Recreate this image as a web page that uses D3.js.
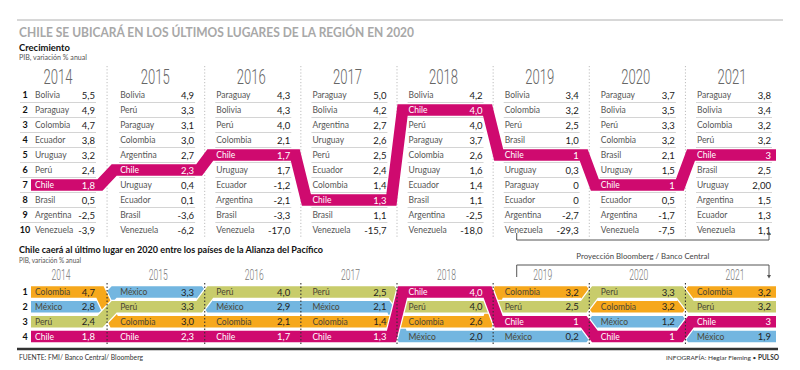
<!DOCTYPE html>
<html>
<head>
<meta charset="utf-8">
<script src="https://cdn.jsdelivr.net/npm/d3@7"></script>
<style>
  body { margin: 0; background: #fff; }
  svg { display: block; }
  text { font-family: Lato, "Open Sans", sans-serif; }
  .yr { font-family: Roboto, Lato, sans-serif; font-weight: 300; }
</style>
</head>
<body>
<svg id="chart" width="800" height="370"></svg>
<script>
// ---- data ----
const years = ['2014', '2015', '2016', '2017', '2018', '2019', '2020', '2021'];
const ranks = [1, 2, 3, 4, 5, 6, 7, 8, 9, 10];

// Crecimiento: ranking per year (top to bottom)
const topCountries = [
  ['Bolivia', 'Paraguay', 'Colombia', 'Ecuador', 'Uruguay', 'Perú', 'Chile', 'Brasil', 'Argentina', 'Venezuela'],
  ['Bolivia', 'Perú', 'Paraguay', 'Colombia', 'Argentina', 'Chile', 'Uruguay', 'Ecuador', 'Brasil', 'Venezuela'],
  ['Paraguay', 'Bolivia', 'Perú', 'Colombia', 'Chile', 'Uruguay', 'Ecuador', 'Argentina', 'Brasil', 'Venezuela'],
  ['Paraguay', 'Bolivia', 'Argentina', 'Uruguay', 'Perú', 'Ecuador', 'Colombia', 'Chile', 'Brasil', 'Venezuela'],
  ['Bolivia', 'Chile', 'Perú', 'Paraguay', 'Colombia', 'Uruguay', 'Ecuador', 'Brasil', 'Argentina', 'Venezuela'],
  ['Bolivia', 'Colombia', 'Perú', 'Brasil', 'Chile', 'Uruguay', 'Paraguay', 'Ecuador', 'Argentina', 'Venezuela'],
  ['Paraguay', 'Bolivia', 'Perú', 'Colombia', 'Brasil', 'Uruguay', 'Chile', 'Ecuador', 'Argentina', 'Venezuela'],
  ['Paraguay', 'Bolivia', 'Colombia', 'Perú', 'Chile', 'Brasil', 'Uruguay', 'Argentina', 'Ecuador', 'Venezuela']
];
const topValues = [
  ['5,5', '4,9', '4,7', '3,8', '3,2', '2,4', '1,8', '0,5', '-2,5', '-3,9'],
  ['4,9', '3,3', '3,1', '3,0', '2,7', '2,3', '0,4', '0,1', '-3,6', '-6,2'],
  ['4,3', '4,3', '4,0', '2,1', '1,7', '1,7', '-1,2', '-2,1', '-3,3', '-17,0'],
  ['5,0', '4,2', '2,7', '2,6', '2,5', '2,4', '1,4', '1,3', '1,1', '-15,7'],
  ['4,2', '4,0', '4,0', '3,7', '2,6', '1,6', '1,4', '1,1', '-2,5', '-18,0'],
  ['3,4', '3,2', '2,5', '1,0', '1', '0,3', '0', '0', '-2,7', '-29,3'],
  ['3,7', '3,5', '3,3', '3,2', '2,1', '1,5', '1', '0,5', '-1,7', '-7,5'],
  ['3,8', '3,4', '3,2', '3,2', '3', '2,5', '2,00', '1,5', '1,3', '1,1']
];

// Alianza del Pacífico: ranking per year
const pacCountries = [
  ['Colombia', 'México', 'Perú', 'Chile'],
  ['México', 'Perú', 'Colombia', 'Chile'],
  ['Perú', 'México', 'Colombia', 'Chile'],
  ['Perú', 'México', 'Colombia', 'Chile'],
  ['Chile', 'Perú', 'Colombia', 'México'],
  ['Colombia', 'Perú', 'Chile', 'México'],
  ['Perú', 'Colombia', 'México', 'Chile'],
  ['Colombia', 'Perú', 'Chile', 'México']
];
const pacValues = [
  ['4,7', '2,8', '2,4', '1,8'],
  ['3,3', '3,3', '3,0', '2,3'],
  ['4,0', '2,9', '2,1', '1,7'],
  ['2,5', '2,1', '1,4', '1,3'],
  ['4,0', '4,0', '2,6', '2,0'],
  ['3,2', '2,5', '1', '0,2'],
  ['3,3', '3,2', '1,2', '1'],
  ['3,2', '3,2', '3', '1,9']
];
const pacOrder = ['México', 'Colombia', 'Perú', 'Chile'];   // drawing order
const projYears = ['2019', '2021'];

const magenta = '#cf0a6f';
const pacColor = d3.scaleOrdinal()
  .domain(['Colombia', 'México', 'Perú', 'Chile'])
  .range(['#f6a81c', '#73b6e0', '#c8cc6b', magenta]);

// ---- layout ----
const svg = d3.select('#chart');
const x = d3.scalePoint().domain(years).range([24, 697]);
const nameX = (yr, i) => i === 0 ? 35 : x(yr);
const valX = (yr, i) => i === 0 ? 95 : x(yr) + 74;
const bandL = (yr, i) => i === 0 ? 31 : x(yr) - 6;
const bandR = (yr, i) => valX(yr, i) + 5;
const midX = (yr, i) => i === 0 ? 58 : x(yr) + 35;
const divX = i => (bandR(years[i], i) + bandL(years[i + 1], i + 1)) / 2;

const yTop = d3.scaleLinear().domain([1, 10]).range([95, 230]);
const yPac = d3.scaleLinear().domain([1, 4]).range([292, 336.5]);

// header
svg.append('line').attr('x1', 17).attr('x2', 783).attr('y1', 20).attr('y2', 20)
  .attr('stroke', '#b0b0b0').attr('stroke-width', 1);
svg.append('text').attr('x', 19).attr('y', 36.5)
  .attr('font-size', 12.5).attr('font-weight', 700).attr('fill', '#a8a8a8')
  .attr('textLength', 395).attr('lengthAdjust', 'spacingAndGlyphs')
  .text('CHILE SE UBICARÁ EN LOS ÚLTIMOS LUGARES DE LA REGIÓN EN 2020');
svg.append('text').attr('x', 19).attr('y', 50.5)
  .attr('font-size', 10).attr('font-weight', 700).attr('fill', '#111')
  .attr('textLength', 51).attr('lengthAdjust', 'spacingAndGlyphs')
  .text('Crecimiento');
svg.append('text').attr('x', 19).attr('y', 60)
  .attr('font-size', 7.5).attr('fill', '#555')
  .attr('textLength', 68).attr('lengthAdjust', 'spacingAndGlyphs')
  .text('PIB, variación % anual');

// ---- top ranking table ----
const topG = svg.append('g');

topG.selectAll('.div').data(years.slice(0, -1)).enter().append('line')
  .attr('x1', (d, i) => divX(i)).attr('x2', (d, i) => divX(i))
  .attr('y1', 66).attr('y2', 237)
  .attr('stroke', '#bdbdbd').attr('stroke-dasharray', '1.2,2');

topG.selectAll('.year').data(years).enter().append('text')
  .attr('class', 'yr')
  .attr('x', (d, i) => midX(d, i)).attr('y', 83.5)
  .attr('text-anchor', 'middle')
  .attr('font-size', 21).attr('fill', '#666')
  .attr('textLength', 29).attr('lengthAdjust', 'spacingAndGlyphs')
  .text(d => d);

// separators
years.forEach((yr, i) => {
  topG.selectAll(null).data(ranks.slice(0, -1)).enter().append('line')
    .attr('x1', i === 0 ? 20 : nameX(yr, i) - 1).attr('x2', valX(yr, i) + 1)
    .attr('y1', r => yTop(r) + 7.5).attr('y2', r => yTop(r) + 7.5)
    .attr('stroke', '#c9c9c9').attr('stroke-width', 0.8);
});

// Chile band
const chilePts = years.flatMap((yr, i) => {
  const r = topCountries[i].indexOf('Chile') + 1;
  return [[bandL(yr, i), yTop(r)], [bandR(yr, i), yTop(r)]];
});
topG.append('path').attr('d', d3.line()(chilePts))
  .attr('fill', 'none').attr('stroke', magenta).attr('stroke-width', 11.5)
  .attr('stroke-linejoin', 'miter');

// ranks
topG.selectAll('.rank').data(ranks).enter().append('text')
  .attr('x', 25).attr('y', r => yTop(r) + 3.3)
  .attr('text-anchor', 'middle').attr('font-size', 9).attr('font-weight', 700).attr('fill', '#111')
  .text(r => r);

years.forEach((yr, i) => {
  const rows = topCountries[i].map((c, k) => ({ c, v: topValues[i][k], r: k + 1 }));
  const g = topG.append('g');
  g.selectAll('.n').data(rows).enter().append('text')
    .attr('x', nameX(yr, i)).attr('y', d => yTop(d.r) + 3)
    .attr('font-size', 8.5).attr('fill', d => d.c === 'Chile' ? '#fff' : '#555')
    .text(d => d.c);
  g.selectAll('.v').data(rows).enter().append('text')
    .attr('x', valX(yr, i)).attr('y', d => yTop(d.r) + 3.5)
    .attr('text-anchor', 'end').attr('font-size', 9.5)
    .attr('fill', d => d.c === 'Chile' ? '#fff' : '#1a1a1a')
    .text(d => d.v);
});

// projection bracket
const pL = x(projYears[0]) + 12, pR = valX(projYears[1], 7) - 2;
svg.append('path').attr('d', `M${pL},233V240H${pR}V234`)
  .attr('fill', 'none').attr('stroke', '#555').attr('stroke-width', 1);
svg.append('path').attr('d', `M${pR - 2},235L${pR},231.5L${pR + 2},235Z`).attr('fill', '#555');
svg.append('text').attr('x', (pL + pR) / 2).attr('y', 258.5)
  .attr('text-anchor', 'middle').attr('font-size', 8).attr('fill', '#444')
  .attr('textLength', 133).attr('lengthAdjust', 'spacingAndGlyphs')
  .text('Proyección Bloomberg / Banco Central');
svg.append('path').attr('d', `M${pL},277V265H${pR}V276`)
  .attr('fill', 'none').attr('stroke', '#555').attr('stroke-width', 1);
svg.append('path').attr('d', `M${pR - 2},275L${pR},278.5L${pR + 2},275Z`).attr('fill', '#555');

// ---- Alianza del Pacífico ----
svg.append('text').attr('x', 19).attr('y', 253)
  .attr('font-size', 10).attr('font-weight', 700).attr('fill', '#111')
  .attr('textLength', 304).attr('lengthAdjust', 'spacingAndGlyphs')
  .text('Chile caerá al último lugar en 2020 entre los países de la Alianza del Pacífico');
svg.append('text').attr('x', 19).attr('y', 263)
  .attr('font-size', 7.5).attr('fill', '#555')
  .attr('textLength', 62).attr('lengthAdjust', 'spacingAndGlyphs')
  .text('PIB, variación % anual');

const pac = svg.append('g');
pac.selectAll('.year').data(years).enter().append('text')
  .attr('class', 'yr')
  .attr('x', (d, i) => midX(d, i) + 3).attr('y', 280)
  .attr('text-anchor', 'middle')
  .attr('font-size', 14).attr('fill', '#777')
  .attr('textLength', 19).attr('lengthAdjust', 'spacingAndGlyphs')
  .text(d => d);

const line = d3.line();
pacOrder.forEach(c => {
  const pts = years.flatMap((yr, i) => {
    const r = pacCountries[i].indexOf(c) + 1;
    return [[bandL(yr, i), yPac(r)], [bandR(yr, i), yPac(r)]];
  });
  pac.append('path').attr('d', line(pts))
    .attr('fill', 'none').attr('stroke', '#fff').attr('stroke-width', 14)
    .attr('stroke-linejoin', 'miter');
  pac.append('path').attr('d', line(pts))
    .attr('fill', 'none').attr('stroke', pacColor(c)).attr('stroke-width', 11.5)
    .attr('stroke-linejoin', 'miter');
});

pac.selectAll('.div').data(years.slice(0, -1)).enter().append('line')
  .attr('x1', (d, i) => divX(i)).attr('x2', (d, i) => divX(i))
  .attr('y1', 283).attr('y2', 345)
  .attr('stroke', '#333').attr('stroke-width', 1.1).attr('stroke-dasharray', '1.5,2');

pac.selectAll('.rank').data(ranks.slice(0, 4)).enter().append('text')
  .attr('x', 25).attr('y', r => yPac(r) + 3.3)
  .attr('text-anchor', 'middle').attr('font-size', 9).attr('font-weight', 700).attr('fill', '#111')
  .text(r => r);

years.forEach((yr, i) => {
  const rows = pacCountries[i].map((c, k) => ({ c, v: pacValues[i][k], r: k + 1 }));
  const g = pac.append('g');
  g.selectAll('.n').data(rows).enter().append('text')
    .attr('x', nameX(yr, i)).attr('y', d => yPac(d.r) + 3)
    .attr('font-size', 8.5).attr('fill', d => d.c === 'Chile' ? '#fff' : '#4a4636')
    .text(d => d.c);
  g.selectAll('.v').data(rows).enter().append('text')
    .attr('x', valX(yr, i)).attr('y', d => yPac(d.r) + 3.5)
    .attr('text-anchor', 'end').attr('font-size', 9.5)
    .attr('fill', d => d.c === 'Chile' ? '#fff' : '#1f1f1f')
    .text(d => d.v);
});

// footer
svg.append('line').attr('x1', 17).attr('x2', 778).attr('y1', 349).attr('y2', 349)
  .attr('stroke', '#333').attr('stroke-width', 2.5);
svg.append('text').attr('x', 19).attr('y', 359.5)
  .attr('font-size', 7).attr('fill', '#333')
  .attr('textLength', 124).attr('lengthAdjust', 'spacingAndGlyphs')
  .text('FUENTE: FMI/ Banco Central/ Bloomberg');
const credit = svg.append('text').attr('x', 779).attr('y', 359.5)
  .attr('text-anchor', 'end').attr('font-size', 6.5).attr('fill', '#333');
credit.append('tspan').text('INFOGRAFÍA: Heglar Fleming • ');
credit.append('tspan').attr('font-weight', 700).text('PULSO');
</script>
</body>
</html>
